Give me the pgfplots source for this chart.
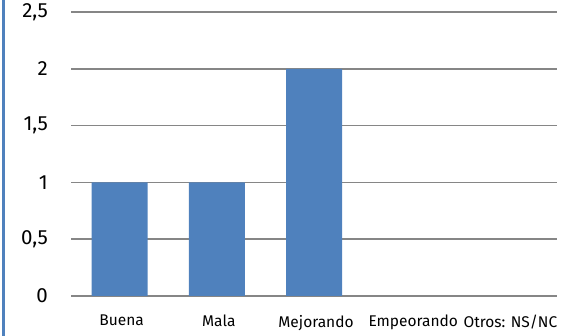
\documentclass[border=0pt]{standalone}
\usepackage{pgfplots}
\pgfplotsset{compat=1.18}
\usepackage{fontspec}
\setmainfont{Fira Sans}
\definecolor{barblue}{HTML}{4F81BD}
\definecolor{gridgray}{HTML}{868686}
\begin{document}
\begin{tikzpicture}
\useasboundingbox (0,0) rectangle (561pt,336pt);
\fill[barblue] (2pt,0) rectangle (4.5pt,336pt);
\begin{axis}[
  at={(71pt,40pt)}, anchor=south west,
  scale only axis, width=486pt, height=284pt,
  xmin=-0.5, xmax=4.5, ymin=0, ymax=2.5,
  ytick={0,0.5,1,1.5,2,2.5},
  yticklabels={0,{0,5},1,{1,5},2,{2,5}},
  xtick={0,1,2,3,4},
  xticklabels={Buena,Mala,Mejorando,Empeorando,Otros: NS/NC},
  axis line style={draw=none},
  major tick length=0pt,
  ymajorgrids, grid style={gridgray, line width=1.5pt},
  yticklabel style={font=\fontsize{20.5}{22}\selectfont, anchor=east, inner sep=0pt, xshift=-23pt},
  xticklabel style={font=\fontsize{15.5}{18}\selectfont, anchor=north, inner sep=0pt, xshift=2pt, yshift=-19pt},
]
\addplot[ybar, bar width=56pt, fill=barblue, draw=none] coordinates {(0,1) (1,1) (2,2)};
\end{axis}
\end{tikzpicture}
\end{document}
